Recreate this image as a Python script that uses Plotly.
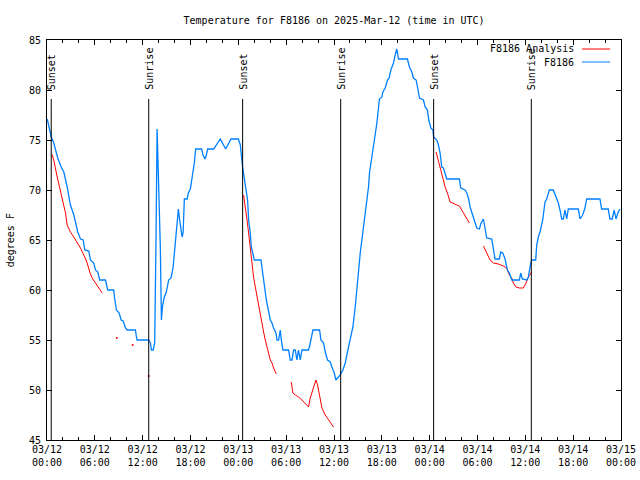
import plotly.graph_objects as go
import pandas as pd

START = "2025-03-12 00:00"

# Observed series F8186 (hours since 03/12 00:00 UTC, degrees F)
blue_hours = [0.03, 0.53, 0.85, 1.35, 1.78, 2.11, 2.53, 2.94, 3.36, 3.70, 3.86, 4.20, 4.54, 4.74, 5.24, 5.45,
              5.86, 6.08, 6.37, 6.62, 7.33, 7.62, 8.37, 8.46, 8.71, 9.05, 9.30, 9.55, 9.84, 10.05, 11.09, 11.22,
              11.30, 12.76, 12.97, 13.10, 13.31, 13.51, 13.60, 13.68, 13.81, 13.88, 14.10, 14.22, 14.35, 14.51,
              14.72, 14.97, 15.26, 15.56, 15.81, 15.98, 16.14, 16.32, 16.48, 16.64, 16.77, 16.94, 17.07, 17.19,
              17.23, 17.57, 17.73, 17.98, 18.27, 18.48, 18.65, 19.40, 19.57, 19.82, 19.99, 20.15, 20.90, 21.74,
              22.41, 23.08, 24.00, 24.25, 24.50, 24.81, 25.16, 25.29, 25.50, 25.63, 25.84, 26.00, 26.84, 27.04,
              27.26, 27.51, 27.76, 28.01, 28.22, 28.42, 28.72, 28.85, 29.05, 29.26, 29.39, 29.60, 30.30, 30.51,
              30.73, 30.93, 31.14, 31.35, 31.55, 31.77, 31.98, 32.81, 33.02, 33.36, 34.19, 34.36, 34.69, 34.90,
              35.19, 35.53, 35.74, 36.03, 36.24, 36.44, 36.78, 37.12, 37.41, 37.69, 38.03, 38.37, 38.66, 38.95,
              39.29, 39.62, 39.91, 40.13, 40.33, 40.45, 40.63, 40.83, 40.95, 41.17, 41.38, 41.70, 42.01, 42.13,
              42.42, 42.71, 42.92, 43.13, 43.46, 43.67, 43.88, 44.09, 45.21, 45.46, 45.76, 45.96, 46.30, 46.47,
              46.72, 47.22, 47.43, 47.72, 47.89, 48.15, 48.40, 48.50, 48.90, 49.10, 49.31, 49.52, 49.72, 50.15,
              51.73, 51.90, 52.44, 52.66, 52.86, 53.07, 53.28, 53.48, 53.70, 53.91, 54.24, 54.45, 54.74, 54.95,
              55.16, 55.79, 55.99, 56.20, 56.74, 56.92, 57.17, 57.46, 57.74, 58.00, 58.30, 59.25, 59.42, 59.62,
              60.18, 60.38, 60.68, 60.80, 61.30, 61.43, 61.63, 61.84, 62.18, 62.34, 62.47, 62.68, 63.01, 63.51,
              63.85, 64.14, 64.35, 64.56, 64.76, 64.97, 65.19, 65.39, 66.64, 66.86, 67.19, 67.48, 67.69, 69.36,
              69.57, 70.40, 70.61, 70.90, 71.15, 71.37, 71.65, 71.87]
blue_temp = [77.1, 75.3, 74.7, 73.2, 72.3, 71.8, 70.3, 68.5, 67.5, 66.3, 65.8, 65.1, 65.0, 64.0, 63.9, 63.0,
             62.7, 62.0, 61.8, 61.0, 61.0, 60.0, 60.0, 59.3, 58.0, 57.7, 57.0, 56.9, 56.2, 56.0, 56.0, 55.3,
             55.0, 55.0, 54.7, 54.0, 54.0, 54.7, 58.5, 65.5, 76.1, 73.7, 69.0, 64.2, 57.0, 58.5,
             59.3, 59.8, 61.0, 61.2, 62.2, 63.7, 65.3, 66.5, 68.1, 67.0, 66.0, 65.3, 65.7, 68.0,
             69.1, 69.1, 69.7, 70.1, 71.6, 72.7, 74.1, 74.1, 73.5, 73.1, 73.5, 74.1, 74.1, 75.1,
             74.1, 75.1, 75.1, 74.5, 72.5, 71.0, 69.0, 67.0, 65.7, 64.3, 63.7, 63.0, 63.0, 61.7,
             60.3, 59.0, 58.0, 57.0, 56.7, 56.2, 55.7, 55.0, 55.0, 56.0, 55.0, 54.0, 54.0, 53.0,
             53.0, 54.0, 54.0, 53.0, 54.0, 53.0, 54.0, 54.0, 54.7, 56.0, 56.0, 55.0, 54.7, 53.8,
             53.0, 52.8, 52.3, 51.7, 51.0, 51.2, 51.5, 52.0, 52.7, 53.8, 55.0, 56.3, 58.3, 61.0,
             63.7, 65.8, 67.5, 68.7, 70.3, 71.7, 72.7, 73.7, 74.3, 75.3, 76.7, 79.1, 79.3, 79.8,
             80.2, 81.0, 81.2, 82.0, 82.7, 83.5, 84.1, 83.1, 83.1, 82.3, 81.8, 81.2, 81.0, 80.3,
             79.2, 79.0, 78.3, 78.0, 77.0, 76.2, 76.0, 75.3, 75.0, 74.5, 73.7, 72.3, 72.2, 71.1,
             71.1, 70.2, 70.0, 69.7, 69.2, 68.3, 67.8, 67.3, 66.7, 66.2, 66.1, 66.7, 67.1, 66.2,
             65.2, 65.1, 64.2, 63.1, 63.1, 63.8, 63.7, 63.1, 62.0, 61.7, 61.0, 61.0, 61.7, 61.1,
             61.0, 61.3, 62.7, 63.0, 63.0, 64.5, 65.3, 65.8, 67.0, 68.0, 68.8, 69.1, 70.0, 70.0,
             69.3, 68.7, 68.0, 67.1, 67.1, 68.0, 67.1, 68.1, 68.1, 67.1, 67.5, 68.2, 69.1, 69.1,
             68.1, 68.1, 67.1, 67.1, 68.0, 67.1, 67.8, 68.1]

# Analysis series (None = gap)
red_hours = [0.60, 0.85, 1.28, 1.69, 2.11, 2.32, 2.53, 2.94, 3.36, 3.78, 4.20, 4.61, 5.04, 5.36, 5.66, 6.08,
             6.49, 6.92, 7.5,
             24.66, 24.87, 25.09, 25.29, 25.50, 25.71, 25.91, 26.13, 26.34, 26.54, 26.75, 26.97, 27.17, 27.38,
             27.59, 27.79, 28.01, 28.22, 28.42, 28.76, 29.5,
             30.64, 30.85, 31.14, 31.55, 31.98, 32.39, 32.81, 33.02, 33.23, 33.43, 33.73, 33.94, 34.19, 34.49,
             34.90, 35.31, 35.74, 35.94, 40.0,
             48.81, 49.10, 49.31, 49.65, 49.94, 50.23, 50.56, 50.78, 51.40, 51.73, 52.03, 52.32, 52.66, 52.98, 54.0,
             54.74, 55.16, 55.58, 55.99, 56.62, 57.24, 57.67, 58.00, 58.30, 58.50, 58.83, 59.25, 59.75, 60.09,
             60.38, 60.80]
red_temp = [73.6, 73.0, 71.3, 70.0, 68.5, 67.7, 66.5, 65.8, 65.3, 64.8, 64.2, 63.5, 62.7, 61.8, 61.2, 60.7,
            60.2, 59.7, None,
            69.5, 68.0, 67.0, 65.7, 64.0, 62.7, 61.3, 60.3, 59.3, 58.7, 57.7, 56.7, 55.8, 55.0,
            54.3, 53.5, 53.0, 52.7, 52.2, 51.6, None,
            50.8, 49.7, 49.5, 49.3, 49.0, 48.7, 48.3, 49.2, 49.8, 50.4, 51.0, 50.5, 49.3, 48.2,
            47.5, 47.0, 46.6, 46.3, None,
            73.8, 72.8, 72.3, 71.2, 70.3, 69.7, 68.8, 68.7, 68.5, 68.4, 68.0, 67.7, 67.2, 66.7, None,
            64.4, 63.7, 63.0, 62.7, 62.6, 62.4, 62.2, 61.5, 61.2, 60.7, 60.3, 60.2, 60.2, 60.7,
            61.3, 61.8]
red_dot_hours = [8.75, 10.75, 12.76]
red_dot_temp = [55.2, 54.5, 51.4]

sun_hours = [0.53, 12.76, 24.54, 36.84, 48.50, 60.75]
sun_labels = ["Sunset", "Sunrise", "Sunset", "Sunrise", "Sunset", "Sunrise"]

tick_hours = [0, 6, 12, 18, 24, 30, 36, 42, 48, 54, 60, 66, 72]
tick_labels = ["03/12<br>00:00", "03/12<br>06:00", "03/12<br>12:00", "03/12<br>18:00",
               "03/13<br>00:00", "03/13<br>06:00", "03/13<br>12:00", "03/13<br>18:00",
               "03/14<br>00:00", "03/14<br>06:00", "03/14<br>12:00", "03/14<br>18:00",
               "03/15<br>00:00"]

start = pd.Timestamp(START)


def to_time(hours):
    return [start + pd.Timedelta(hours=h) for h in hours]


FONT = "DejaVu Sans Mono"
BLUE = "#0080ff"
RED = "#ff0000"

fig = go.Figure()
fig.add_trace(go.Scatter(x=to_time(red_hours), y=red_temp, mode="lines", connectgaps=False,
                         line=dict(color=RED, width=1), name="F8186 Analysis", showlegend=False))
fig.add_trace(go.Scatter(x=to_time(red_dot_hours), y=red_dot_temp, mode="markers",
                         marker=dict(color=RED, size=2), showlegend=False))
fig.add_trace(go.Scatter(x=to_time(blue_hours), y=blue_temp, mode="lines",
                         line=dict(color=BLUE, width=1.3), name="F8186", showlegend=False))

for h, lab in zip(sun_hours, sun_labels):
    t = start + pd.Timedelta(hours=h)
    fig.add_shape(type="line", x0=t, x1=t, y0=45, y1=79.1, xref="x", yref="y",
                  line=dict(color="black", width=1))
    fig.add_annotation(x=t, y=79.8, xref="x", yref="y", text=lab, textangle=-90,
                       showarrow=False, xanchor="center", yanchor="bottom",
                       font=dict(family=FONT, size=10, color="black"))

# manual gnuplot-style legend
legend_items = [("F8186 Analysis", RED, 0.9775), ("F8186", BLUE, 0.945)]
for name, col, yp in legend_items:
    fig.add_annotation(x=0.921, y=yp, xref="paper", yref="paper", text=name, showarrow=False,
                       xanchor="right", yanchor="middle", font=dict(family=FONT, size=10, color="black"))
    fig.add_shape(type="line", x0=0.932, x1=0.981, y0=yp, y1=yp, xref="paper", yref="paper",
                  line=dict(color=col, width=1))

fig.add_annotation(x=-0.064, y=0.5, xref="paper", yref="paper", text="degrees F", textangle=-90,
                   showarrow=False, xanchor="center", yanchor="middle",
                   font=dict(family=FONT, size=10, color="black"))

fig.update_layout(
    width=640, height=480,
    margin=dict(l=47, r=19, t=40, b=40, autoexpand=False),
    paper_bgcolor="white", plot_bgcolor="white",
    font=dict(family=FONT, size=10, color="black"),
    title=dict(text="Temperature for F8186 on 2025-Mar-12 (time in UTC)", x=0.522, xanchor="center",
               y=0.958, yanchor="middle", font=dict(family=FONT, size=10, color="black")),
    showlegend=False,
)
fig.update_xaxes(
    range=[start, start + pd.Timedelta(hours=72)], automargin=False,
    tickvals=to_time(tick_hours), ticktext=tick_labels,
    showgrid=False, zeroline=False, showline=True, linecolor="black", linewidth=1, mirror="ticks",
    ticks="inside", ticklen=5, tickcolor="black",
    minor=dict(ticks="inside", ticklen=3, tickcolor="black", dtick=2 * 3600 * 1000, tick0=start, showgrid=False),
    tickfont=dict(family=FONT, size=10, color="black"),
)
fig.update_yaxes(
    range=[45, 85], dtick=5, tick0=45, automargin=False,
    showgrid=False, zeroline=False, showline=True, linecolor="black", linewidth=1, mirror="ticks",
    ticks="inside", ticklen=5, tickcolor="black", ticklabelstandoff=3,
    tickfont=dict(family=FONT, size=10, color="black"),
)

fig.write_html("out.html", config={"displayModeBar": False},
               post_script="document.body.style.margin='0';document.body.style.overflow='hidden';")
